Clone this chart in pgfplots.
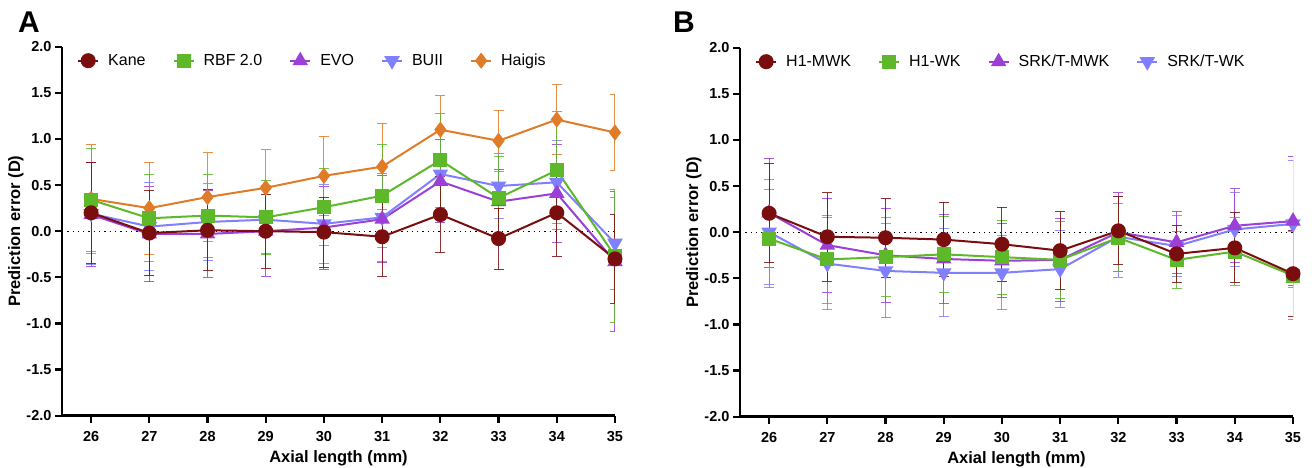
\documentclass[border=0pt]{standalone}
\usepackage{fontspec}
\setmainfont{Liberation Sans}
\usepackage{pgfplots}
\pgfplotsset{compat=1.18}
\usepackage{pgfplotstable}

\definecolor{cRed}{RGB}{122,14,14}
\definecolor{cGreen}{RGB}{93,184,42}
\definecolor{cPurple}{RGB}{155,63,214}
\definecolor{cBlue}{RGB}{128,128,255}
\definecolor{cOrange}{RGB}{224,123,40}

% panel A: mean and SD per axial length
\pgfplotstableread{
x  kane  kaneE rbf   rbfE evo   evoE buii  buiiE haigis haigisE
26 0.20  0.55  0.34  0.56 0.18  0.56 0.19  0.55  0.35   0.59
27 -0.02 0.46  0.14  0.47 -0.03 0.52 0.05  0.48  0.25   0.50
28 0.01  0.44  0.17  0.45 -0.03 0.47 0.10  0.42  0.37   0.48
29 0.00  0.40  0.15  0.40 0.00  0.49 0.125 0.37  0.47   0.42
30 -0.01 0.38  0.26  0.42 0.04  0.45 0.08  0.43  0.60   0.43
31 -0.06 0.43  0.385 0.56 0.13  0.47 0.15  0.48  0.70   0.47
32 0.18  0.41  0.77  0.51 0.54  0.45 0.62  0.47  1.10   0.37
33 -0.08 0.33  0.36  0.45 0.32  0.35 0.49  0.35  0.98   0.33
34 0.20  0.47  0.66  0.64 0.41  0.53 0.53  0.45  1.21   0.38
35 -0.30 0.48  -0.27 0.72 -0.33 0.76 -0.13 0.50  1.07   0.41
}\tabA

% panel B
\pgfplotstableread{
x  hm     hmE   hw     hwE   sm    smE   sw    swE
26 0.205  0.535 -0.07  0.53  0.21  0.59  0.00  0.57
27 -0.05  0.48  -0.295 0.475 -0.14 0.51  -0.34 0.50
28 -0.06  0.43  -0.27  0.43  -0.25 0.51  -0.42 0.51
29 -0.08  0.405 -0.24  0.41  -0.29 0.48  -0.44 0.475
30 -0.13  0.40  -0.27  0.40  -0.31 0.40  -0.44 0.40
31 -0.20  0.42  -0.30  0.42  -0.30 0.45  -0.40 0.42
32 0.015  0.37  -0.06  0.37  0.00  0.43  -0.05 0.44
33 -0.235 0.305 -0.30  0.31  -0.11 0.335 -0.15 0.33
34 -0.17  0.38  -0.21  0.37  0.07  0.40  0.03  0.40
35 -0.45  0.465 -0.47  0.48  0.12  0.70  0.09  0.69
}\tabB

\pgfplotsset{
  pe/.style={
    scale only axis, width=553pt, height=369pt,
    xmin=25.5, xmax=35, ymin=-2, ymax=2,
    axis x line*=bottom, axis y line*=left,
    axis line style={line width=2.6pt, -},
    tick align=outside, major tick length=7pt,
    every tick/.style={black, line width=2.2pt},
    xtick={26,...,35}, ytick={-2,-1.5,...,2},
    yticklabel style={/pgf/number format/.cd, fixed, fixed zerofill, precision=1},
    xticklabel style={yshift=-5pt},
    /pgf/number format/assume math mode=true,
    tick label style={font=\fontsize{14.5}{16}\selectfont\bfseries},
    label style={font=\fontsize{16.5}{18}\selectfont\bfseries},
    xlabel={Axial length (mm)}, ylabel={Prediction error (D)},
    xlabel style={yshift=-2pt}, ylabel shift=-4pt,
    legend style={draw=none, fill=none, legend columns=-1,
      at={(rel axis cs:0,1)}, anchor=west, xshift=12pt, yshift=-14pt,
      font=\fontsize{16}{18}\selectfont,
      /tikz/every odd column/.append style={column sep=7pt},
      /tikz/every even column/.append style={column sep=25pt}},
    legend image code/.code={\draw[mark repeat=2, mark phase=2] plot coordinates {(0pt,0pt) (10pt,0pt) (20pt,0pt)};},
    reverse legend,
  },
  ser/.style={color=#1, line width=2pt,
    error bars/y dir=both, error bars/y explicit,
    error bars/error bar style={line width=1pt, color=#1, opacity=0.85},
    error bars/error mark options={rotate=90, mark size=5pt, line width=1pt, color=#1, opacity=0.85}},
}

\begin{document}
\begin{tikzpicture}
\useasboundingbox (0,0) rectangle (1312pt,467pt);

\begin{axis}[pe, at={(62pt,51.3pt)}, anchor=south west]
\addplot[black, line width=1.2pt, dash pattern=on 1.3pt off 4pt, forget plot] coordinates {(25.5,0) (35,0)};
\addplot[ser=cOrange, mark=diamond*, mark size=6.5pt] table[x=x, y=haigis, y error=haigisE] {\tabA};
\addlegendentry{Haigis}
\addplot[ser=cBlue, mark=triangle*, mark size=7pt, mark options={rotate=180}] table[x=x, y=buii, y error=buiiE] {\tabA};
\addlegendentry{BUII}
\addplot[ser=cPurple, mark=triangle*, mark size=7pt] table[x=x, y=evo, y error=evoE] {\tabA};
\addlegendentry{EVO}
\addplot[ser=cGreen, mark=square*, mark size=6pt] table[x=x, y=rbf, y error=rbfE] {\tabA};
\addlegendentry{RBF 2.0}
\addplot[ser=cRed, mark=*, mark size=6.5pt] table[x=x, y=kane, y error=kaneE] {\tabA};
\addlegendentry{Kane}
\end{axis}

\begin{axis}[pe, at={(740pt,50.3pt)}, anchor=south west]
\addplot[black, line width=1.2pt, dash pattern=on 1.3pt off 4pt, forget plot] coordinates {(25.5,0) (35,0)};
\addplot[ser=cBlue, mark=triangle*, mark size=7pt, mark options={rotate=180}] table[x=x, y=sw, y error=swE] {\tabB};
\addlegendentry{SRK/T-WK}
\addplot[ser=cPurple, mark=triangle*, mark size=7pt] table[x=x, y=sm, y error=smE] {\tabB};
\addlegendentry{SRK/T-MWK}
\addplot[ser=cGreen, mark=square*, mark size=6pt] table[x=x, y=hw, y error=hwE] {\tabB};
\addlegendentry{H1-WK}
\addplot[ser=cRed, mark=*, mark size=6.5pt] table[x=x, y=hm, y error=hmE] {\tabB};
\addlegendentry{H1-MWK}
\end{axis}

\node[font=\fontsize{30}{31}\selectfont\bfseries] at (29pt,445pt) {A};
\node[font=\fontsize{30}{31}\selectfont\bfseries] at (684pt,445pt) {B};
\end{tikzpicture}
\end{document}
